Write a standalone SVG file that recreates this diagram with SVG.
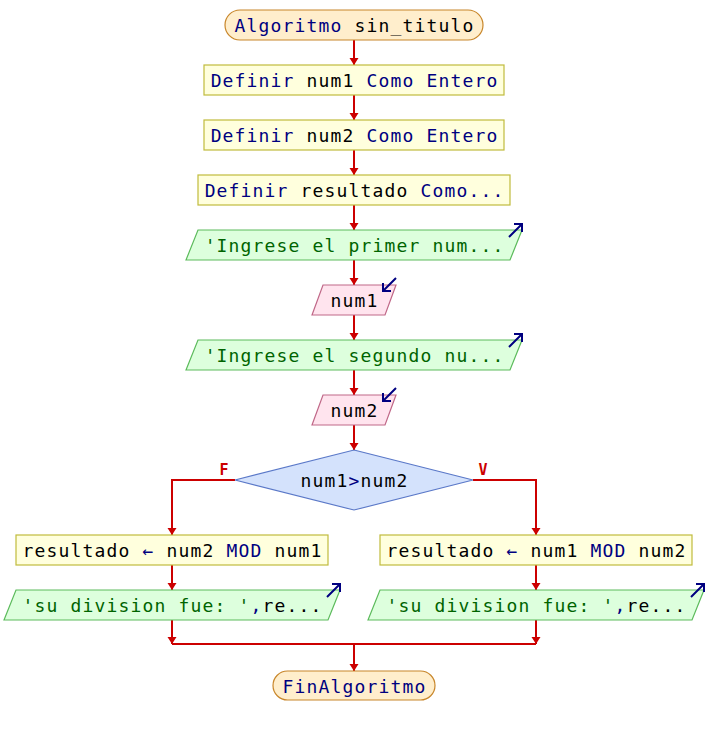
<svg xmlns="http://www.w3.org/2000/svg" width="708" height="735" viewBox="0 0 708 735">
<defs>
<style>
text{font-family:"DejaVu Sans Mono","Liberation Mono",monospace;font-size:18px;letter-spacing:1.16px;text-anchor:middle;fill:#000}
.kw{fill:#000080}
.str{fill:#006400}
.term{fill:#ffeecc;stroke:#c8862a;stroke-width:1.2}
.proc{fill:#ffffdd;stroke:#c0bb3c;stroke-width:1.2}
.out{fill:#ddffdd;stroke:#5cbb5c;stroke-width:1.2}
.in{fill:#ffe4ee;stroke:#c06888;stroke-width:1.2}
.dec{fill:#d4e2fc;stroke:#5a78c8;stroke-width:1.2}
.edge{fill:none;stroke:#cc0000;stroke-width:2}
.icon{fill:none;stroke:#000080;stroke-width:2}
.lbl{font-size:15px;font-weight:bold;fill:#cc0000;letter-spacing:0}
</style>
<marker id="ad" markerUnits="userSpaceOnUse" markerWidth="10" markerHeight="10" refX="7" refY="5" orient="auto" viewBox="0 0 8 10">
<path d="M0,0.5 L7,5 L0,9.5 Z" fill="#cc0000"/>
</marker>
</defs>
<g id="connectors">
<path class="edge" d="M354,40 V65" marker-end="url(#ad)"/>
<path class="edge" d="M354,95 V120" marker-end="url(#ad)"/>
<path class="edge" d="M354,150 V175" marker-end="url(#ad)"/>
<path class="edge" d="M354,205 V230" marker-end="url(#ad)"/>
<path class="edge" d="M354,260 V285" marker-end="url(#ad)"/>
<path class="edge" d="M354,315 V340" marker-end="url(#ad)"/>
<path class="edge" d="M354,370 V395" marker-end="url(#ad)"/>
<path class="edge" d="M354,425 V450" marker-end="url(#ad)"/>
<path class="edge" d="M235,480 H172 V535" marker-end="url(#ad)"/>
<path class="edge" d="M473,480 H536 V535" marker-end="url(#ad)"/>
<path class="edge" d="M172,565 V590" marker-end="url(#ad)"/>
<path class="edge" d="M536,565 V590" marker-end="url(#ad)"/>
<path class="edge" d="M172,620 V644" marker-end="url(#ad)"/>
<path class="edge" d="M536,620 V644" marker-end="url(#ad)"/>
<path class="edge" d="M172,644 H536"/>
<path class="edge" d="M354,644 V671" marker-end="url(#ad)"/>
<text class="lbl" x="224" y="475">F</text>
<text class="lbl" x="483" y="475">V</text>
</g>
<g id="start">
<rect class="term" x="225" y="10" width="258" height="30" rx="15"/>
<text x="354.6" y="32"><tspan class="kw">Algoritmo</tspan> sin_titulo</text>
</g>
<g id="def1">
<rect class="proc" x="204" y="65" width="300" height="30"/>
<text x="354.6" y="87"><tspan class="kw">Definir</tspan> num1 <tspan class="kw">Como Entero</tspan></text>
</g>
<g id="def2">
<rect class="proc" x="204" y="120" width="300" height="30"/>
<text x="354.6" y="142"><tspan class="kw">Definir</tspan> num2 <tspan class="kw">Como Entero</tspan></text>
</g>
<g id="def3">
<rect class="proc" x="198" y="175" width="312" height="30"/>
<text x="354.6" y="197"><tspan class="kw">Definir</tspan> resultado <tspan class="kw">Como...</tspan></text>
</g>
<g id="out1">
<polygon class="out" points="186,260 198,230 522,230 510,260"/>
<text class="str" x="354.6" y="252">'Ingrese el primer num...</text>
<path class="icon" d="M509,237 L521,225 M514,224 H522 V232"/>
</g>
<g id="in1">
<polygon class="in" points="312,315 323,285 396,285 385,315"/>
<text x="354.6" y="307">num1</text>
<path class="icon" d="M396,278 L384,290 M383,283 V291 H391"/>
</g>
<g id="out2">
<polygon class="out" points="186,370 198,340 522,340 510,370"/>
<text class="str" x="354.6" y="362">'Ingrese el segundo nu...</text>
<path class="icon" d="M509,347 L521,335 M514,334 H522 V342"/>
</g>
<g id="in2">
<polygon class="in" points="312,425 323,395 396,395 385,425"/>
<text x="354.6" y="417">num2</text>
<path class="icon" d="M396,388 L384,400 M383,393 V401 H391"/>
</g>
<g id="cond">
<polygon class="dec" points="354,450 473,480 354,510 235,480"/>
<text x="354.6" y="487">num1<tspan class="kw">&gt;</tspan>num2</text>
</g>
<g id="assignF">
<rect class="proc" x="16" y="535" width="312" height="30"/>
<text x="172.6" y="557">resultado <tspan class="kw">←</tspan> num2 <tspan class="kw">MOD</tspan> num1</text>
</g>
<g id="outF">
<polygon class="out" points="4,620 16,590 340,590 328,620"/>
<text x="172.6" y="612"><tspan class="str">'su division fue: '</tspan><tspan class="kw">,</tspan>re...</text>
<path class="icon" d="M327,597 L339,585 M332,584 H340 V592"/>
</g>
<g id="assignV">
<rect class="proc" x="380" y="535" width="312" height="30"/>
<text x="536.6" y="557">resultado <tspan class="kw">←</tspan> num1 <tspan class="kw">MOD</tspan> num2</text>
</g>
<g id="outV">
<polygon class="out" points="368,620 380,590 704,590 692,620"/>
<text x="536.6" y="612"><tspan class="str">'su division fue: '</tspan><tspan class="kw">,</tspan>re...</text>
<path class="icon" d="M691,597 L703,585 M696,584 H704 V592"/>
</g>
<g id="end">
<rect class="term" x="273" y="671" width="162" height="29" rx="14.5"/>
<text x="354.6" y="693" class="kw">FinAlgoritmo</text>
</g>
</svg>
